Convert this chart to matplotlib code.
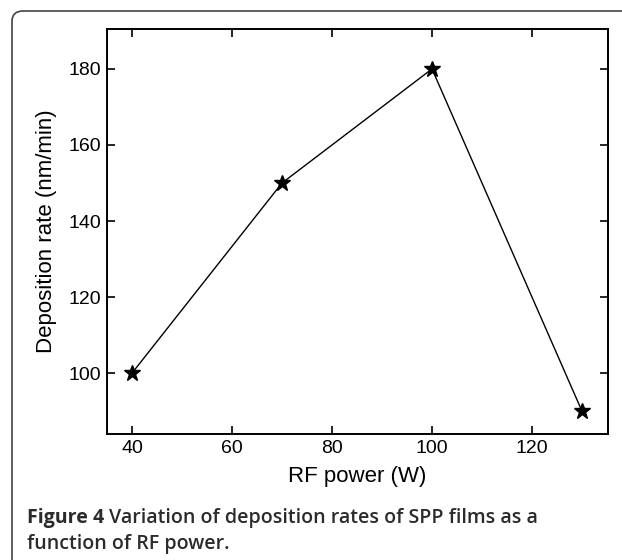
import matplotlib
matplotlib.use("Agg")
import matplotlib.pyplot as plt
from matplotlib.patches import FancyBboxPatch

rf_power = [40, 70, 100, 130]
deposition_rate = [100, 150, 180, 90]
x_ticks = [40, 60, 80, 100, 120]
y_ticks = [100, 120, 140, 160, 180]

W, H = 622, 560
plt.rcParams["font.family"] = ["Liberation Sans", "DejaVu Sans"]

fig = plt.figure(figsize=(W / 100, H / 100), dpi=100)

# outer rounded frame (runs off the right and bottom edges)
frame = FancyBboxPatch((12 / W, -0.1), 700 / W, 1.1 - 11 / H,
                       boxstyle="round,pad=0,rounding_size=0.018",
                       transform=fig.transFigure, fill=False,
                       edgecolor="#444444", linewidth=1.2)
fig.patches.append(frame)

ax = fig.add_axes([107 / W, 1 - 434 / H, 501 / W, 405 / H])
ax.plot(rf_power, deposition_rate, color="black", linewidth=1.0,
        marker="*", markersize=12, markerfacecolor="black",
        markeredgecolor="black")
ax.set_xlim(35, 135.2)
ax.set_ylim(84, 190.5)
ax.set_xticks(x_ticks)
ax.set_yticks(y_ticks)
ax.tick_params(direction="in", length=6, width=1.2, top=True, right=True,
               labelsize=14, pad=4.5, colors="black")
for s in ax.spines.values():
    s.set_linewidth(1.4)
ax.set_xlabel("RF power (W)", fontsize=16, labelpad=6)
ax.set_ylabel("Deposition rate (nm/min)", fontsize=16, labelpad=8)

cap_font = ["Open Sans", "DejaVu Sans"]
cap_size = 14.1
t1 = fig.text(27 / W, 1 - 518 / H, "Figure 4", fontsize=cap_size, fontweight="bold",
              family=cap_font, color="#2b2b2b", va="center", ha="left")
fig.canvas.draw()
bb = t1.get_window_extent()
fig.text(bb.x1 / W + 5 / W, 1 - 518 / H,
         "Variation of deposition rates of SPP films as a",
         fontsize=cap_size, fontweight="semibold", family=cap_font,
         color="#2b2b2b", va="center", ha="left")
fig.text(27 / W, 1 - 544 / H, "function of RF power.", fontsize=cap_size,
         fontweight="semibold", family=cap_font, color="#2b2b2b",
         va="center", ha="left")

fig.savefig("out.png", dpi=100)
